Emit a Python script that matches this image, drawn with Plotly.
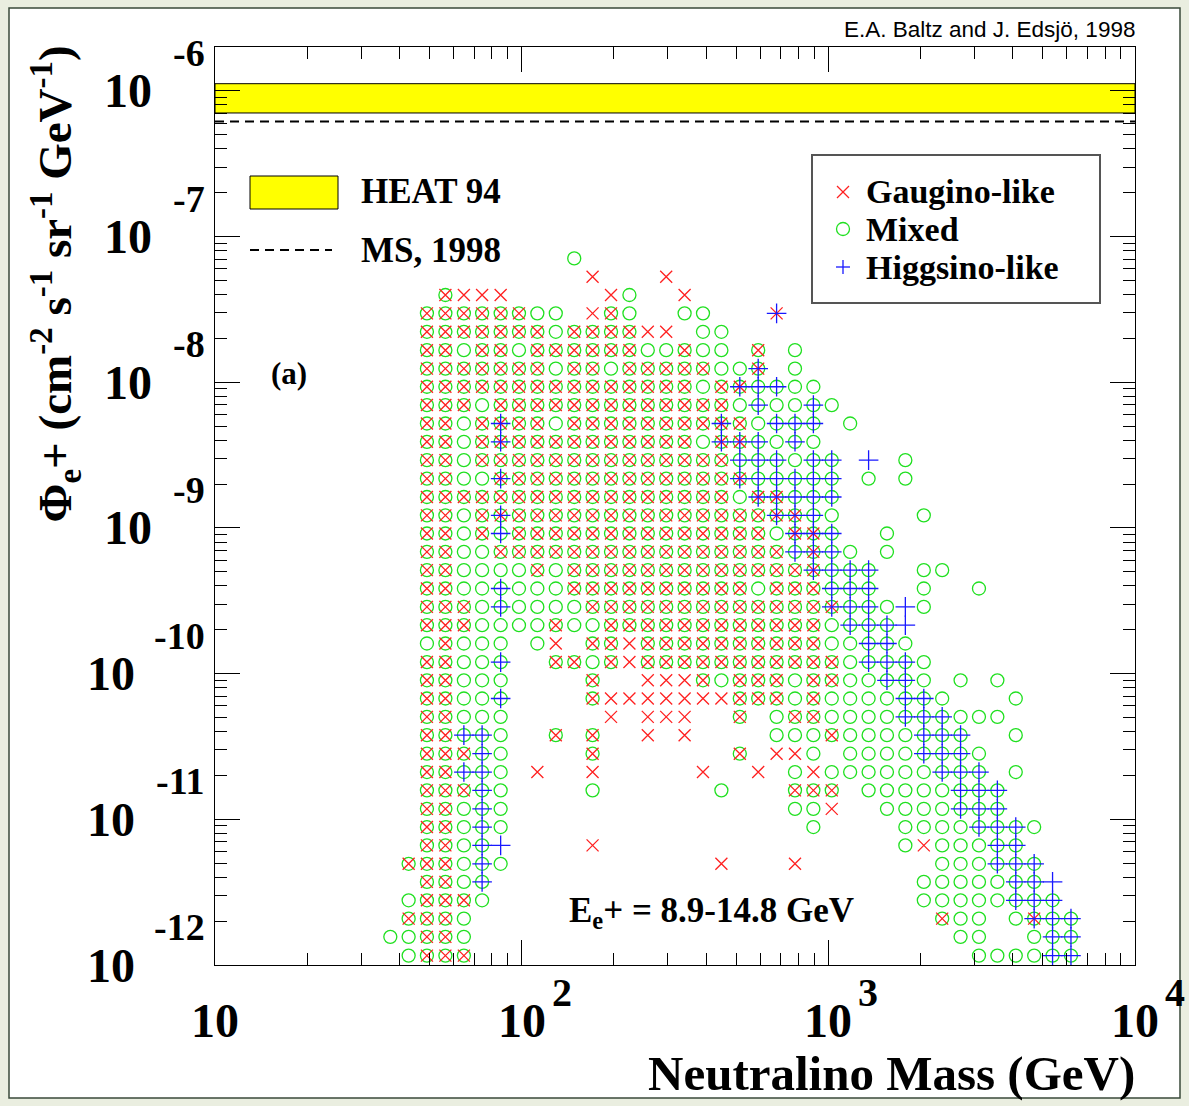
import math
import plotly.graph_objects as go

# Neutralino mass bin centres (GeV)
mass_bins = [37.3, 42.8, 49.1, 56.4, 64.8, 74.3, 85.4, 98.0, 112.5, 129.2,
             148.4, 170.3, 195.6, 224.6, 257.8, 296.0, 339.9, 390.2, 448.0, 514.4,
             590.6, 678.1, 778.5, 893.8, 1026, 1178, 1353, 1553, 1783, 2048,
             2351, 2699, 3099, 3558, 4085, 4690, 5385, 6183]

# Positron flux bin centres (cm^-2 s^-1 sr^-1 GeV^-1), lowest first
flux_bins = [1.16e-12, 1.56e-12, 2.08e-12, 2.78e-12, 3.72e-12, 4.95e-12, 6.62e-12, 8.85e-12,
             1.18e-11, 1.58e-11, 2.11e-11, 2.82e-11, 3.78e-11, 5.05e-11, 6.75e-11, 9.00e-11,
             1.20e-10, 1.61e-10, 2.15e-10, 2.87e-10, 3.84e-10, 5.13e-10, 6.85e-10, 9.16e-10,
             1.22e-9, 1.63e-9, 2.18e-9, 2.92e-9, 3.90e-9, 5.21e-9, 6.97e-9, 9.31e-9,
             1.24e-8, 1.66e-8, 2.22e-8, 2.97e-8, 3.97e-8, 5.30e-8, 7.08e-8]

# Occupied (mass, flux) bins, highest flux row first; one character per mass bin.
# x = gaugino-like, o = mixed, + = higgsino-like,
# X = gaugino+mixed, O = mixed+higgsino, * = gaugino+higgsino, # = all three
scan_rows = [
    "..........|o.........|..........|........",
    "..........|.x...x....|..........|........",
    "...Xxxx...|..xo..x...|..........|........",
    "..XXXXXXoo|.xXo..oo..|.*........|........",
    "..XXXXXXXo|XXXXxx.oo.|..........|........",
    "..XXoXXoXX|XXXXooXoo.|X.o.......|........",
    "..XXXXXXXo|XXoXXXXXoo|#.o.......|........",
    "..XXXXXXXX|XXXXXXXoX#|OOoo......|........",
    "..XXXoXXXX|XXXXXXXXXo|OooOo.....|........",
    "..XXoX#XXo|XXXXXXXX#X|oOOO.o....|........",
    "..XXoX#XXX|XXXXXXXo##|OoOo......|........",
    "..XXoXXXXX|XXXXXXXXXO|OOoOO.+.o.|........",
    "..XXoo#XXX|XXXXXXXXX#|OOOOO.o.o.|........",
    "..XXXXXXXX|XXXXXXXXXo|##OOO.....|........",
    "..XXoX#XXX|XXXXXXXXXX|X##Oo....o|........",
    "..XXoXOXXX|XXXXXXXXXX|Xo##O..o..|........",
    "..XXooXXXX|XXXXXXXXXX|XXO#Oo.o..|........",
    "..XXooooXo|XXXXXXXXXX|XXX#OOO..o|o.......",
    "..XXooOooo|XXXXXXXXXX|oXXXOOO..o|..o.....",
    "..XXXoOooo|oXXXXXXXXX|XXXX#OOo+o|........",
    "..XXXooooX|ooXXXXXXXX|XXXXoOOO+.|........",
    "..oXooo.ox|.XXxXXXXXX|XXXXooOOo.|........",
    "..XXooO..X|XoXxXXXXXX|XXXXXoOOOo|........",
    "..XXooo...|.X..xxxXoX|XXoXXooOOo|.o.o....",
    "..XXooO...|.XxxxxxxxX|XXoXooooOO|o...o...",
    "..XXooo...|..x.xxx..X|.oXXooooOO|Oooo....",
    "..XXOOo..X|.X..x.x...|.oooXooooO|OO..o...",
    "..XXXOo...|.X.......X|.xxo.ooooO|OOo.....",
    "..XXOOo.x.|.x.....x..|x.oxoooooo|OOO.o...",
    "..XXXOo...|.o......o.|..XXX.oooo|oOOO....",
    "..XXoOo...|..........|..oox..ooo|oOOO....",
    "..XXoOo...|..........|...o....oo|ooOOOo..",
    "..XXoO+...|.x........|........ox|oooOO...",
    ".XXXoOo...|........x.|..x.......|oooOOO..",
    "..XXoO....|..........|.........o|ooooOO+.",
    ".oXXXo....|..........|.........o|ooooOOO.",
    ".XXXo.....|..........|..........|Xoo.o#OO",
    "ooXXo.....|..........|..........|.oo..oOO",
    ".oXXX.....|..........|..........|..ooooOO",
]

code_members = {"x": "g", "o": "m", "+": "h", "X": "gm", "O": "mh", "*": "gh", "#": "gmh"}

# HEAT 94 measured band and the MS 1998 prediction in the same energy bin
heat94_band = [7.05e-7, 1.12e-6]
ms1998_flux = 6.15e-7

x_range = [10, 1e4]
y_range = [1e-12, 2e-6]
x_ticks = [10, 100, 1000, 10000]
y_ticks = [1e-12, 1e-11, 1e-10, 1e-9, 1e-8, 1e-7, 1e-6]

series = {"g": ([], []), "m": ([], []), "h": ([], [])}
n_rows = len(scan_rows)
for r, row in enumerate(scan_rows):
    flux = flux_bins[n_rows - 1 - r]
    for j, ch in enumerate(row.replace("|", "")):
        for key in code_members.get(ch, ""):
            series[key][0].append(mass_bins[j])
            series[key][1].append(flux)

SERIF = "Liberation Serif"
SANS = "Liberation Sans"
W, H = 1189, 1106
M_L, M_R, M_T, M_B = 215, 54, 47, 141
PW, PH = W - M_L - M_R, H - M_T - M_B


def px(xp):
    """page pixel column -> paper x"""
    return (xp - M_L) / PW


def py(yp):
    """page pixel row -> paper y"""
    return (H - M_B - yp) / PH


def bold(size, family=SERIF):
    return dict(family=family, size=size, color="black", weight="bold")


fig = go.Figure()

# HEAT 94 band
fig.add_trace(go.Scatter(
    x=[x_range[0], x_range[1], x_range[1], x_range[0], x_range[0]],
    y=[heat94_band[0], heat94_band[0], heat94_band[1], heat94_band[1], heat94_band[0]],
    mode="lines", fill="toself", fillcolor="#ffff00",
    line=dict(color="black", width=1), showlegend=False, hoverinfo="skip"))

# MS, 1998 level
fig.add_trace(go.Scatter(
    x=x_range, y=[ms1998_flux, ms1998_flux], mode="lines",
    line=dict(color="black", width=2, dash="9px,6px"),
    showlegend=False, hoverinfo="skip"))

RED, GREEN, BLUE = "#ff2020", "#20e020", "#1818ff"
styles = {
    "m": dict(name="Mixed", symbol="circle-open", color=GREEN, size=13),
    "g": dict(name="Gaugino-like", symbol="x-thin-open", color=RED, size=12),
    "h": dict(name="Higgsino-like", symbol="cross-thin-open", color=BLUE, size=14),
}
for key in ["m", "g", "h"]:
    st = styles[key]
    xs, ys = series[key]
    fig.add_trace(go.Scatter(
        x=xs, y=ys, mode="markers", name=st["name"], showlegend=False,
        marker=dict(symbol=st["symbol"], size=st["size"], color=st["color"],
                    line=dict(color=st["color"], width=1.3))))

axis_common = dict(
    type="log", showline=True, linecolor="black", linewidth=1, mirror="allticks",
    ticks="inside", ticklen=25, tickwidth=1, tickcolor="black", showgrid=False,
    zeroline=False, showticklabels=False, tickmode="array",
    minor=dict(ticks="inside", ticklen=12, tickwidth=1, tickcolor="black",
               dtick="D1", showgrid=False),
)
fig.update_xaxes(**axis_common, range=[math.log10(v) for v in x_range], tickvals=x_ticks)
fig.update_yaxes(**axis_common, range=[math.log10(v) for v in y_range], tickvals=y_ticks)

annotations = []

# decade labels: "10" with a raised exponent
for v in x_ticks:
    e = round(math.log10(v))
    annotations.append(dict(text="10", xref="x", yref="paper", x=e, y=0,
                            xanchor="center", yanchor="middle", yshift=-55,
                            showarrow=False, font=bold(48)))
    if e != 1:
        annotations.append(dict(text=str(e), xref="x", yref="paper", x=e, y=0,
                                xanchor="left", yanchor="middle", xshift=28, yshift=-27,
                                showarrow=False, font=bold(40)))
for v in y_ticks:
    e = round(math.log10(v))
    label = "%d" % e
    annotations.append(dict(text=label, xref="paper", yref="y", x=0, y=e,
                            xanchor="right", yanchor="middle", xshift=-8, yshift=38,
                            showarrow=False, font=bold(38)))
    annotations.append(dict(text="10", xref="paper", yref="y", x=0, y=e,
                            xanchor="right", yanchor="middle",
                            xshift=-61 if len(label) == 2 else -78,
                            showarrow=False, font=bold(48)))

annotations += [
    dict(text="Neutralino Mass (GeV)", xref="paper", yref="paper", x=px(1137), y=py(1073),
         xanchor="right", yanchor="middle", showarrow=False, font=bold(49)),
    dict(text="Φ<sub>e</sub>+ (cm<sup>-2</sup> s<sup>-1</sup> sr<sup>-1</sup> GeV<sup>-1</sup>)",
         xref="paper", yref="paper", x=px(55), y=py(44), xanchor="center", yanchor="top",
         textangle=-90, showarrow=False, font=bold(47)),
    dict(text="E.A. Baltz and J. Edsjö, 1998", xref="paper", yref="paper",
         x=px(1137), y=py(30), xanchor="right", yanchor="middle", showarrow=False,
         font=dict(family=SANS, size=22.5, color="black")),
    dict(text="(a)", xref="paper", yref="paper", x=px(269), y=py(373),
         xanchor="left", yanchor="middle", showarrow=False, font=bold(31)),
    dict(text="E<sub>e</sub>+ = 8.9-14.8 GeV", xref="paper", yref="paper",
         x=px(567), y=py(912), xanchor="left", yanchor="middle", showarrow=False,
         font=bold(35)),
    dict(text="HEAT 94", xref="paper", yref="paper", x=px(359), y=py(192),
         xanchor="left", yanchor="middle", showarrow=False, font=bold(35)),
    dict(text="MS, 1998", xref="paper", yref="paper", x=px(359), y=py(250),
         xanchor="left", yanchor="middle", showarrow=False, font=bold(35)),
]

# right-hand key for the three neutralino classes
key_rows = [("Gaugino-like", "g", 192), ("Mixed", "m", 229), ("Higgsino-like", "h", 267)]
for label, key, yrow in key_rows:
    annotations.append(dict(text=label, xref="paper", yref="paper", x=px(864), y=py(yrow),
                            xanchor="left", yanchor="middle", showarrow=False,
                            font=bold(34)))

shapes = [
    # page frame
    dict(type="rect", xref="paper", yref="paper", x0=px(9), x1=px(1180), y0=py(1098), y1=py(8),
         fillcolor="white", line=dict(color="#3a4a3a", width=1.5), layer="below"),
    # key for the HEAT 94 band
    dict(type="rect", xref="paper", yref="paper", x0=px(250), x1=px(338), y0=py(209), y1=py(176),
         fillcolor="#ffff00", line=dict(color="black", width=1)),
    # key for the MS, 1998 line
    dict(type="line", xref="paper", yref="paper", x0=px(250), x1=px(332), y0=py(250), y1=py(250),
         line=dict(color="black", width=2, dash="9px,6px")),
    # box of the neutralino-class key
    dict(type="rect", xref="paper", yref="paper", x0=px(812), x1=px(1100), y0=py(303), y1=py(155),
         fillcolor="white", line=dict(color="#555555", width=2)),
]

# marker glyphs inside the class key
cx = 843
half = 6
gy = 192
shapes += [
    dict(type="line", xref="paper", yref="paper", x0=px(cx - half), x1=px(cx + half),
         y0=py(gy - half), y1=py(gy + half), line=dict(color=RED, width=1.3)),
    dict(type="line", xref="paper", yref="paper", x0=px(cx - half), x1=px(cx + half),
         y0=py(gy + half), y1=py(gy - half), line=dict(color=RED, width=1.3)),
]
my = 229
shapes.append(dict(type="circle", xref="paper", yref="paper", x0=px(cx - 6.5), x1=px(cx + 6.5),
                   y0=py(my + 6.5), y1=py(my - 6.5), line=dict(color=GREEN, width=1.3)))
hy = 267
shapes += [
    dict(type="line", xref="paper", yref="paper", x0=px(cx - 7), x1=px(cx + 7),
         y0=py(hy), y1=py(hy), line=dict(color=BLUE, width=1.3)),
    dict(type="line", xref="paper", yref="paper", x0=px(cx), x1=px(cx),
         y0=py(hy - 7), y1=py(hy + 7), line=dict(color=BLUE, width=1.3)),
]

fig.update_layout(
    width=W, height=H,
    margin=dict(l=M_L, r=M_R, t=M_T, b=M_B, pad=0),
    paper_bgcolor="#eaeee0", plot_bgcolor="white",
    annotations=annotations, shapes=shapes,
    showlegend=False,
)

fig.write_html("out.html")
